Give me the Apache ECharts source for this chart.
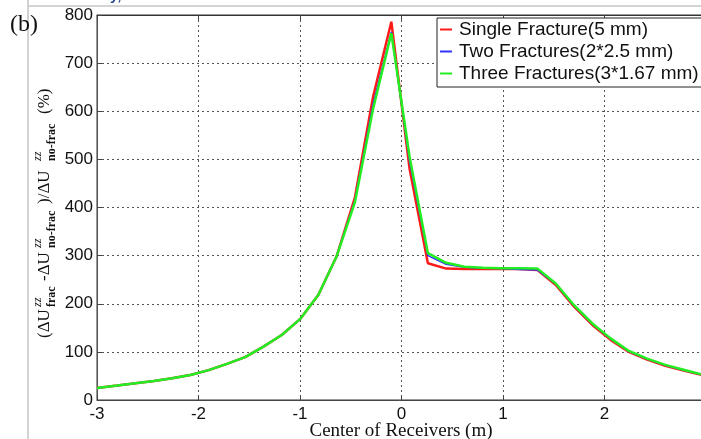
<!DOCTYPE html>
<html>
<head>
<meta charset="utf-8">
<script src="https://cdn.jsdelivr.net/npm/echarts@6/dist/echarts.min.js"></script>
<style>
html,body{margin:0;padding:0;background:#fff;overflow:hidden;}
#chart{width:701px;height:439px;}
</style>
</head>
<body>
<div id="chart"></div>
<script>
// ---- data ----
var xValues = [-3.0,-2.8,-2.62,-2.44,-2.26,-2.08,-1.9,-1.72,-1.54,-1.36,-1.18,-1.0,-0.82,-0.64,-0.46,-0.28,-0.1,0.08,0.26,0.44,0.62,0.8,0.98,1.16,1.34,1.52,1.7,1.88,2.06,2.24,2.42,2.6,2.78,2.96];
var singleFracture = [25,30,35,39.5,45,52,62,75,89,111,135,168,218,298,420,630,786,480,284,273,272,272,272,272,270,239,194,156,125,100,84,71,61,52];
var twoFractures   = [25,30,35,39.5,45,52,62,75,89,111,135,168,218,298,414,615,765,495,300,282,276,274,273,271,270,241,196,158,127,101,85,72,62,52.5];
var threeFractures = [25,30,35,39.5,45,52,62,75,89,111,135,168,218,298,410,605,762,505,305,285,277,275,274,274,273,242,197,159,128,102,86,73,63,53];
var seriesNames = ['Single Fracture(5 mm)','Two Fractures(2*2.5 mm)','Three Fractures(3*1.67 mm)'];
var xTicks = {min:-3, max:3, interval:1};
var yTicks = {min:0, max:800, interval:100};
var xTitle = 'Center of Receivers (m)';

function pairs(vals){ return xValues.map(function(x,i){ return [x, vals[i]]; }); }

var chart = echarts.init(document.getElementById('chart'), null, {renderer:'canvas'});
var sans = 'Liberation Sans, Arial, sans-serif';
var serif = 'Liberation Serif, Times New Roman, serif';

function t(x, y, text, font){
  return {type:'text', x:x, y:y, style:{text:text, font:font, fill:'#111', textVerticalAlign:'middle'}};
}
var mainF = '17px ' + serif, supF = 'italic 12px ' + serif, subF = 'bold 12px ' + serif;
var yTitle = {
  type:'group', x:45, y:338, rotation:Math.PI/2,
  children:[
    t(0,0,'(\u0394U',mainF),
    t(31,-7,'zz',supF),
    t(31,7,'frac',subF),
    t(57,0,'-\u0394U',mainF),
    t(90,-7,'zz',supF),
    t(90,7,'no-frac',subF),
    t(134,0,')/\u0394U',mainF),
    t(177,-7,'zz',supF),
    t(177,7,'no-frac',subF),
    t(224,0,'(%)',mainF)
  ]
};

var option = {
  backgroundColor:'#fff',
  animation:false,
  grid:{left:97, top:15, right:-5, bottom:39, outerBoundsMode:'none', containLabel:false, show:true, borderColor:'#333', borderWidth:1},
  legend:{
    data:seriesNames, orient:'vertical', left:437, top:18,
    icon:'rect', itemWidth:12, itemHeight:2, itemGap:3,
    padding:[2,10,4,3],
    borderColor:'#222', borderWidth:1, backgroundColor:'#fff',
    textStyle:{fontFamily:sans, fontSize:19, color:'#111', lineHeight:19, padding:[0,0,0,2]}
  },
  xAxis:[{
    type:'value', min:xTicks.min, max:xTicks.max, interval:xTicks.interval,
    axisLine:{show:true, onZero:false, lineStyle:{color:'#444'}},
    axisTick:{show:true, inside:true, length:5, lineStyle:{color:'#444'}},
    axisLabel:{fontFamily:sans, fontSize:17, color:'#111', margin:6},
    splitLine:{show:true, lineStyle:{color:'#555', type:[2,3], width:1}}
  },{
    type:'value', position:'top', min:xTicks.min, max:xTicks.max, interval:xTicks.interval,
    axisLine:{show:true, onZero:false, lineStyle:{color:'#333'}},
    axisTick:{show:true, inside:true, length:5, lineStyle:{color:'#444'}},
    axisLabel:{show:false}, splitLine:{show:false}
  }],
  yAxis:{
    type:'value', min:yTicks.min, max:yTicks.max, interval:yTicks.interval,
    axisLine:{show:true, onZero:false, lineStyle:{color:'#555'}},
    axisTick:{show:true, inside:true, length:5, lineStyle:{color:'#444'}},
    axisLabel:{fontFamily:sans, fontSize:17, color:'#111', margin:4},
    splitLine:{show:true, lineStyle:{color:'#555', type:[2,3], width:1}}
  },
  graphic:[
    {type:'line', shape:{x1:28,y1:0,x2:28,y2:439}, style:{stroke:'#c4c4c4', lineWidth:1.5}, z:0},
    {type:'line', shape:{x1:28,y1:6,x2:701,y2:6}, style:{stroke:'#c4c4c4', lineWidth:1.5}, z:0},
    {type:'text', x:10, y:13, style:{text:'(b)', font:'24px ' + serif, fill:'#111'}},
    {type:'text', x:110, y:-12, style:{text:'y,', font:'bold 15px ' + sans, fill:'#2b4a93'}},
    {type:'text', x:401, y:431, style:{text:xTitle, font:'19px ' + serif, fill:'#111', textAlign:'center', textVerticalAlign:'middle'}},
    yTitle
  ],
  series:[
    {name:seriesNames[0], type:'line', data:pairs(singleFracture), showSymbol:false, color:'#ff1a1a', lineStyle:{width:2.5, color:'#ff1a1a'}, z:2},
    {name:seriesNames[1], type:'line', data:pairs(twoFractures), showSymbol:false, color:'#3333ff', lineStyle:{width:1.5, color:'#3333ff'}, z:3},
    {name:seriesNames[2], type:'line', data:pairs(threeFractures), showSymbol:false, color:'#22ee22', lineStyle:{width:2.5, color:'#22ee22'}, z:4}
  ]
};
chart.setOption(option);
</script>
</body>
</html>
